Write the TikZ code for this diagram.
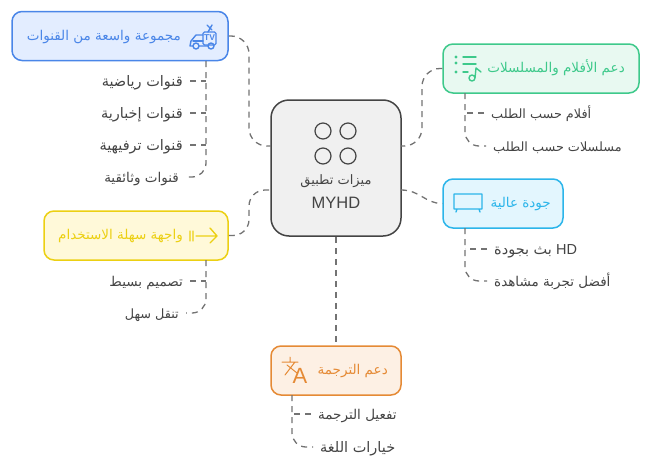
\documentclass[tikz,border=0pt]{standalone}
\usepackage{fontspec}
\setmainfont{Liberation Sans}
\newfontfamily\arabicfont[Script=Arabic]{DejaVu Sans}
\TeXXeTstate=1
\usetikzlibrary{positioning}
\definecolor{bluedraw}{HTML}{4A86E8}
\definecolor{bluefill}{HTML}{E3EDFF}
\definecolor{greendraw}{HTML}{3EC98B}
\definecolor{greenfill}{HTML}{E8F9F1}
\definecolor{cyandraw}{HTML}{2CB5EA}
\definecolor{cyanfill}{HTML}{E3F6FE}
\definecolor{yellowdraw}{HTML}{ECD013}
\definecolor{yellowfill}{HTML}{FFF9D9}
\definecolor{orangedraw}{HTML}{E58A35}
\definecolor{orangefill}{HTML}{FDF0E4}
\definecolor{inkgray}{HTML}{444444}
\newcommand{\artext}[1]{{\arabicfont\beginR #1\endR}}
\begin{document}
\begin{tikzpicture}[x=1pt,y=-1pt]
\tikzstyle{topic}=[rectangle, rounded corners=10pt, line width=1.5pt, minimum height=49pt, inner sep=0pt]
\tikzstyle{title}=[inner sep=0pt, text height=10pt, text depth=0pt, font=\fontsize{13.5}{15}\selectfont]
\tikzstyle{leaf}=[inner xsep=7pt, inner ysep=2pt, text height=10pt, text depth=0pt, anchor=east, text=inkgray, font=\fontsize{13.5}{16}\selectfont]
\tikzstyle{leafr}=[leaf, anchor=west]
\tikzstyle{wide}=[font=\fontsize{14.5}{16}\selectfont]
\tikzstyle{narrow}=[font=\fontsize{12.8}{16}\selectfont]
\tikzstyle{link}=[draw=black!55, line width=1.3pt, dash pattern=on 6pt off 5pt]
\tikzstyle{icon}=[line width=1.4pt, line cap=round, line join=round]
  \useasboundingbox (0,0) rectangle (650,471);
  % central node
  \node[topic, draw=inkgray, fill=black!6, minimum width=130pt, minimum height=136pt, rounded corners=18pt] (app) at (336,168) {};
  \node[inner sep=0pt, text=inkgray, font=\fontsize{13}{15}\selectfont] (apptitle) at (336,181) {\artext{ميزات تطبيق}};
  \node[inner sep=0pt, text=inkgray, font=\fontsize{16.5}{18}\selectfont] (appname) at (336,203) {MYHD};
  \foreach \cx/\cy in {323/131,348/131,323/156,348/156}
    \draw[inkgray, line width=1.2pt] (\cx,\cy) circle (8);
  % topics
  \node[topic, draw=bluedraw, fill=bluefill, minimum width=216pt] (channels) at (120,36) {};
  \node[title, text=bluedraw, anchor=east] (channelstitle) at (181,35) {\artext{مجموعة واسعة من القنوات}};
  \node[topic, draw=greendraw, fill=greenfill, minimum width=196pt] (movies) at (541,68.5) {};
  \node[title, text=greendraw, anchor=east] (moviestitle) at (625,67) {\artext{دعم الأفلام والمسلسلات}};
  \node[topic, draw=cyandraw, fill=cyanfill, minimum width=120pt] (quality) at (503,203.5) {};
  \node[title, text=cyandraw, anchor=east] (qualitytitle) at (551,202) {\artext{جودة عالية}};
  \node[topic, draw=yellowdraw, fill=yellowfill, minimum width=184pt] (ease) at (136,235.5) {};
  \node[title, text=yellowdraw, anchor=east] (easetitle) at (183,234) {\artext{واجهة سهلة الاستخدام}};
  \node[topic, draw=orangedraw, fill=orangefill, minimum width=130pt] (subs) at (336,370.5) {};
  \node[title, text=orangedraw, anchor=east] (substitle) at (388,369) {\artext{دعم الترجمة}};
  % leaves
  \node[leaf, wide] (sport) at (190,81) {\artext{قنوات رياضية}};
  \node[leaf, wide] (news) at (190,113) {\artext{قنوات إخبارية}};
  \node[leaf, wide] (fun) at (190,145) {\artext{قنوات ترفيهية}};
  \node[leaf] (docs) at (186,177) {\artext{قنوات وثائقية}};
  \node[leafr, narrow] (films) at (484,113) {\artext{أفلام حسب الطلب}};
  \node[leafr, narrow] (series) at (486,146) {\artext{مسلسلات حسب الطلب}};
  \node[leafr, wide] (hd) at (487,249) {\artext{بث بجودة} HD};
  \node[leafr] (best) at (487,281) {\artext{أفضل تجربة مشاهدة}};
  \node[leaf] (simple) at (190,281) {\artext{تصميم بسيط}};
  \node[leaf, narrow] (nav) at (186,313) {\artext{تنقل سهل}};
  \node[leafr] (enable) at (311,414) {\artext{تفعيل الترجمة}};
  \node[leafr, wide] (lang) at (313,447) {\artext{خيارات اللغة}};
  % links from the central node
  \coordinate (appl1) at (271,146);
  \coordinate (appl2) at (271,190);
  \coordinate (appr1) at (401,146);
  \coordinate (appr2) at (401,190);
  \draw[link, rounded corners=18pt] (channels.east) -- (249,36) |- (appl1);
  \draw[link, rounded corners=16pt] (ease.east) -- (249,235.5) |- (appl2);
  \draw[link, rounded corners=18pt] (movies.west) -- (422,68.5) |- (appr1);
  \draw[link] (appr2) .. controls (420,190) and (425,203.5) .. (quality.west);
  \draw[link] (app.south) -- (subs.north);
  % links to the leaves
  \coordinate (channelsdrop) at (206,61);
  \coordinate (moviesdrop) at (465,93);
  \coordinate (qualitydrop) at (465,228);
  \coordinate (easedrop) at (206,260);
  \coordinate (subsdrop) at (292,395);
  \draw[link, rounded corners=14pt] (channelsdrop) |- (docs.east);
  \draw[link] (sport.east) -- (channelsdrop |- sport);
  \draw[link] (news.east) -- (channelsdrop |- news);
  \draw[link] (fun.east) -- (channelsdrop |- fun);
  \draw[link, rounded corners=14pt] (moviesdrop) |- (series.west);
  \draw[link] (films.west) -- (moviesdrop |- films);
  \draw[link, rounded corners=14pt] (qualitydrop) |- (best.west);
  \draw[link] (hd.west) -- (qualitydrop |- hd);
  \draw[link, rounded corners=14pt] (easedrop) |- (nav.east);
  \draw[link] (simple.east) -- (easedrop |- simple);
  \draw[link, rounded corners=14pt] (subsdrop) |- (lang.west);
  \draw[link] (enable.west) -- (subsdrop |- enable);
  % icons
  \draw[icon, bluedraw, rounded corners=1.5pt] (203,32) rectangle (216,45);
  \draw[icon, bluedraw] (203,35) -- (196,35) -- (191,41) -- (190,46) -- (193,46) (199,46) -- (208,46);
  \draw[icon, bluedraw] (193,41) -- (203,41);
  \draw[icon, bluedraw] (196,46) circle (3) (211,46) circle (3);
  \draw[icon, bluedraw] (208,32) -- (212,25) (207,25) -- (212,30);
  \node[inner sep=0pt, text=bluedraw, font=\fontsize{8.5}{9}\bfseries\selectfont] (tvmark) at (209.5,38) {TV};
  \fill[greendraw] (456,57) circle (1.6) (456,63) circle (1.6) (456,72) circle (1.6);
  \draw[icon, greendraw] (463,57) -- (476,57) (463,64) -- (476,64) (463,72) -- (468,72);
  \draw[icon, greendraw] (472,78) circle (3) (475,78) -- (476,68) -- (481,72);
  \draw[icon, cyandraw] (454,194) rectangle (482,209) (457,209) -- (456,212) (479,209) -- (480,212);
  \draw[icon, yellowdraw] (190,231) -- (190,241) (193,231) -- (193,241) (196,236) -- (217,236) (210,228) -- (217,236) -- (210,243);
  \draw[icon, orangedraw, line width=1pt] (282,362) -- (298,362) (290,357) -- (290,362) (295,362) -- (285,375) (287,365) -- (297,373);
  \node[inner sep=0pt, text=orangedraw, font=\fontsize{22}{24}\selectfont] (latin) at (300,375.5) {A};
\end{tikzpicture}
\end{document}
